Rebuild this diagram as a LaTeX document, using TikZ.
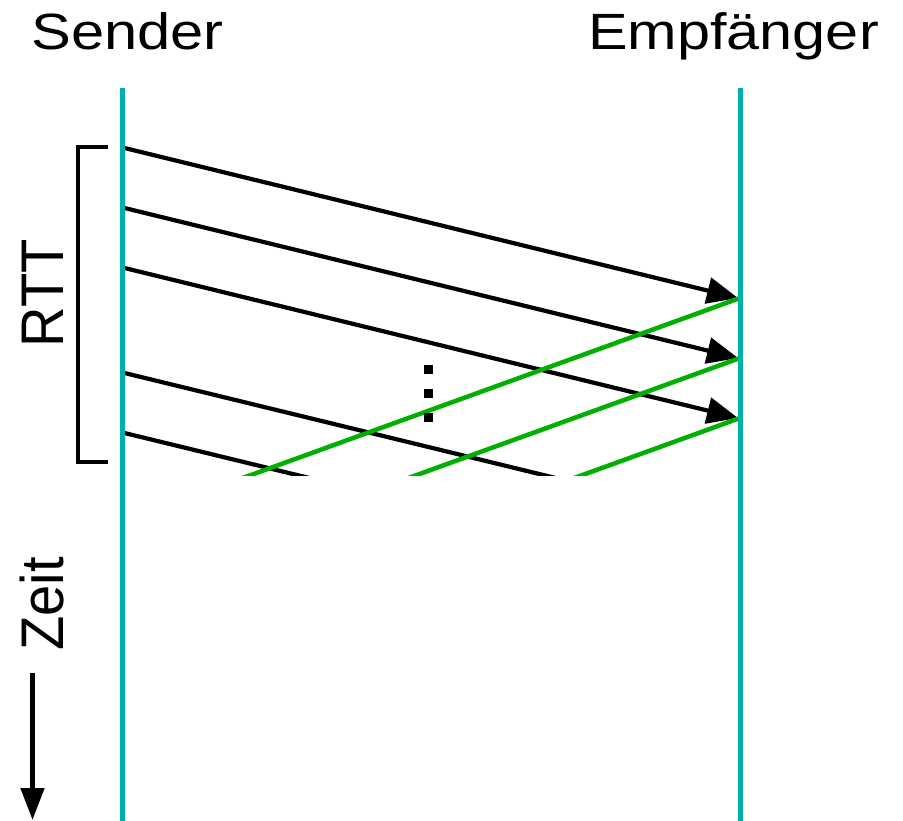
\documentclass[tikz,border=0pt]{standalone}
\usepackage{fontspec}
\setmainfont{Liberation Sans}
\usetikzlibrary{arrows.meta}
\definecolor{lifeteal}{RGB}{0,176,170}
\definecolor{ackgreen}{RGB}{0,176,0}
\begin{document}
\begin{tikzpicture}[x=1pt,y=-1pt,
  lifeline/.style={draw=lifeteal, line width=5pt},
  data/.style={draw=black, line width=4.2pt},
  datatip/.style={data, -{Triangle[length=31pt,width=26pt]}},
  ack/.style={draw=ackgreen, line width=4.5pt},
  txt/.style={inner sep=0pt, font=\fontsize{51}{60}\selectfont},
  dot/.style={fill=black, minimum size=9pt, inner sep=0pt},
  ]
\useasboundingbox (0,0) rectangle (903,821);

% headings
\node[txt, anchor=base west] (sender) at (31,49.5) {\scalebox{1.17}[1]{Sender}};
\node[txt, anchor=base west] (empf) at (588,49.5) {\scalebox{1.165}[1]{Empfänger}};

% side labels
\node[txt, rotate=90, anchor=base] (rtt) at (63,293) {\scalebox{1.1}[1.18]{RTT}};
\node[txt, rotate=90, anchor=base] (zeit) at (63,604) {\scalebox{1.1}[1.18]{Zeit}};

% lifeline end points
\coordinate (sTop) at (122,88);
\coordinate (sBot) at (122,821);
\coordinate (rTop) at (740,88);
\coordinate (rBot) at (740,821);

% segment send times
\coordinate (s1) at (124.5,148);
\coordinate (s2) at (124.5,208);
\coordinate (s3) at (124.5,268);
\coordinate (s4) at (124.5,373);
\coordinate (s5) at (124.5,433);
% arrivals
\coordinate (r1) at (738,298);
\coordinate (r2) at (738,358);
\coordinate (r3) at (738,418);
\coordinate (r4) at (738,522.4);
\coordinate (r5) at (738,582.4);
% acknowledgements
\coordinate (a1) at (740,298);
\coordinate (a2) at (740,358);
\coordinate (a3) at (740,418);
\coordinate (b1) at (122,521.7);
\coordinate (b2) at (122,581.7);
\coordinate (b3) at (122,641.7);

\begin{scope}
  \clip (0,0) rectangle (903,475);
  \draw[datatip] (s1) -- (r1);
  \draw[datatip] (s2) -- (r2);
  \draw[datatip] (s3) -- (r3);
  \draw[data] (s4) -- (r4);
  \draw[data] (s5) -- (r5);
  \draw[ack] (a1) -- (b1);
  \draw[ack] (a2) -- (b2);
  \draw[ack] (a3) -- (b3);
\end{scope}

% vertical ellipsis
\node[dot] (d1) at (428,369) {};
\node[dot] (d2) at (428,393) {};
\node[dot] (d3) at (428,417) {};

% RTT bracket
\coordinate (kTop) at (108,147);
\coordinate (kBot) at (108,462);
\draw[line width=4.5pt] (kTop) -| (78,462) -- (kBot);

% lifelines
\draw[lifeline] (sTop) -- (sBot);
\draw[lifeline] (rTop) -- (rBot);

% time axis
\coordinate (tTop) at (32.5,673);
\coordinate (tEnd) at (32.5,820);
\draw[line width=5pt, -{Triangle[length=32pt,width=23pt]}] (tTop) -- (tEnd);
\end{tikzpicture}
\end{document}
